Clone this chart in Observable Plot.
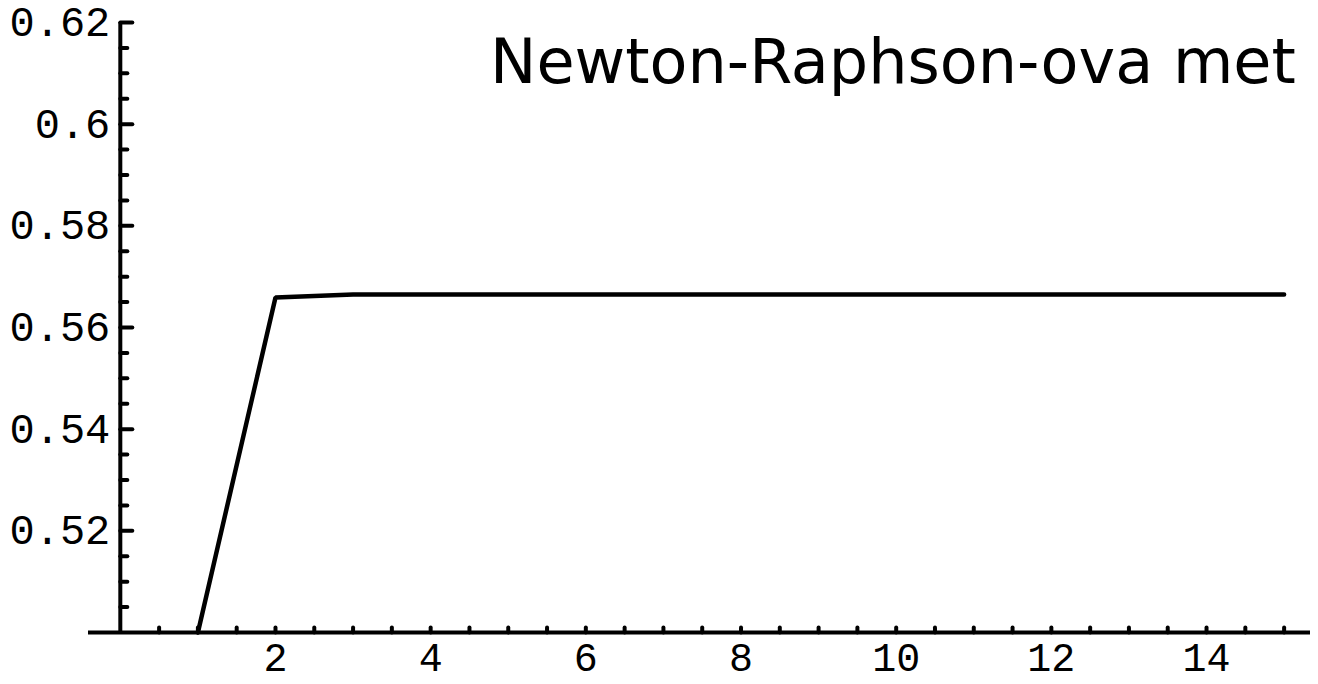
<!DOCTYPE html>
<html>
<head>
<meta charset="utf-8">
<script src="https://cdn.jsdelivr.net/npm/d3@7"></script>
<script src="https://cdn.jsdelivr.net/npm/@observablehq/plot@0.6"></script>
<style>
  html, body { margin: 0; padding: 0; background: #fff; overflow: hidden; }
  #wrap { position: relative; width: 1318px; height: 684px; overflow: hidden; }
  #title { position: absolute; left: 490px; top: 31px; font-family: "DejaVu Sans", sans-serif; font-size: 62px; line-height: 1; white-space: nowrap; color: #000; }
  #chart svg { display: block; }
</style>
</head>
<body>
<div id="wrap">
  <div id="chart"></div>
  <div id="title">Newton-Raphson-ova met</div>
</div>
<script>
// Data
const iterations = [1, 2, 3, 4, 5, 6, 7, 8, 9, 10, 11, 12, 13, 14, 15];
const values = [0.5, 0.5659, 0.5665, 0.5665, 0.5665, 0.5665, 0.5665, 0.5665, 0.5665, 0.5665, 0.5665, 0.5665, 0.5665, 0.5665, 0.5665];

// Axes
const xDomain = [-0.41, 15.34];
const yDomain = [0.5, 0.62];
const xTickValues = [2, 4, 6, 8, 10, 12, 14];
const xTickLabels = ["2", "4", "6", "8", "10", "12", "14"];
const xMinorTicks = [0.5, 1, 1.5, 2, 2.5, 3, 3.5, 4, 4.5, 5, 5.5, 6, 6.5, 7, 7.5, 8, 8.5, 9, 9.5, 10, 10.5, 11, 11.5, 12, 12.5, 13, 13.5, 14, 14.5, 15];
const yTickValues = [0.52, 0.54, 0.56, 0.58, 0.6, 0.62];
const yTickLabels = ["0.52", "0.54", "0.56", "0.58", "0.6", "0.62"];
const yMinorTicks = [0.505, 0.51, 0.515, 0.525, 0.53, 0.535, 0.545, 0.55, 0.555, 0.565, 0.57, 0.575, 0.585, 0.59, 0.595, 0.605, 0.61, 0.615];

const points = iterations.map((x, i) => ({x, y: values[i]}));
const yTicks = yTickValues.map((v, i) => ({v, label: yTickLabels[i]}));
const xTicks = xTickValues.map((v, i) => ({v, label: xTickLabels[i]}));

const line = {draw(context, l) { context.moveTo(0, 0); context.lineTo(0, -l); }};
const labelFont = {fontFamily: "Liberation Mono, monospace", fill: "#000"};

const chart = Plot.plot({
  width: 1318,
  height: 684,
  marginLeft: 88,
  marginRight: 8,
  marginTop: 22,
  marginBottom: 52,
  x: {domain: xDomain, axis: null},
  y: {domain: yDomain, axis: null},
  style: {background: "#fff", overflow: "visible"},
  marks: [
    Plot.ruleY([yDomain[0]], {stroke: "#000", strokeWidth: 4}),
    Plot.ruleX([0], {y1: yDomain[0], y2: yDomain[1], stroke: "#000", strokeWidth: 4}),
    // inward y ticks
    Plot.vector(yTickValues, {x: () => 0, y: d => d, length: 12, rotate: 90, anchor: "start", shape: line, stroke: "#000", strokeWidth: 4}),
    Plot.vector(yMinorTicks, {x: () => 0, y: d => d, length: 7, rotate: 90, anchor: "start", shape: line, stroke: "#000", strokeWidth: 4}),
    // x ticks
    Plot.vector(xMinorTicks, {x: d => d, y: () => yDomain[0], length: 5, rotate: 0, anchor: "start", shape: line, stroke: "#000", strokeWidth: 4}),
    // labels
    Plot.text(yTicks, {x: () => 0, y: "v", text: "label", textAnchor: "end", dx: -10, fontSize: 42, ...labelFont}),
    Plot.text(xTicks, {x: "v", y: () => yDomain[0], text: "label", lineAnchor: "top", dy: 10, fontSize: 40, ...labelFont}),
    // data line
    Plot.line(points, {x: "x", y: "y", stroke: "#000", strokeWidth: 4.5, strokeLinejoin: "miter"})
  ]
});
document.getElementById("chart").appendChild(chart);
</script>
</body>
</html>
